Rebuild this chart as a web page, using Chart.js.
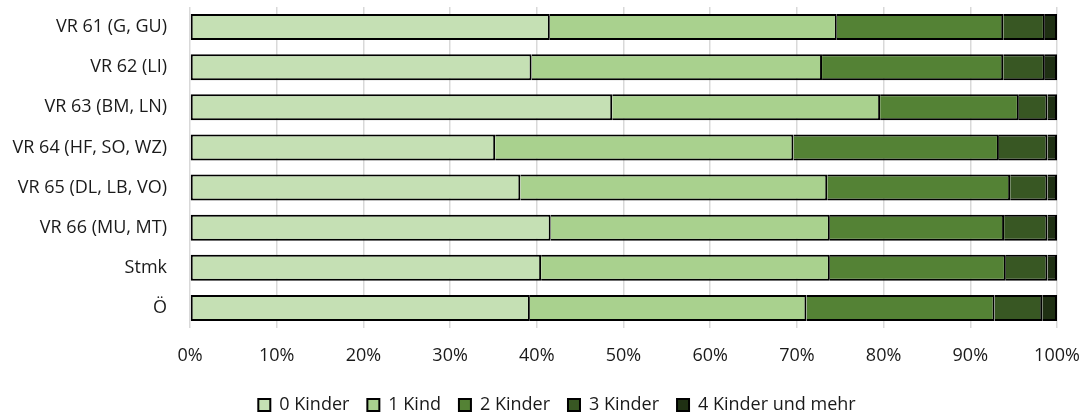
<!DOCTYPE html>
<html lang="de">
<head>
<meta charset="utf-8">
<title>Kinder je Haushalt</title>
<script src="https://cdn.jsdelivr.net/npm/chart.js@4/dist/chart.umd.min.js"></script>
<style>
    html, body { margin: 0; padding: 0; background: #fff; }
    #childrenChart { display: block; }
</style>
</head>
<body>
<canvas id="childrenChart" width="1082" height="414"></canvas>
<script>
// --- Data (shares in %) ---
const regions = ['VR 61 (G, GU)', 'VR 62 (LI)', 'VR 63 (BM, LN)', 'VR 64 (HF, SO, WZ)',
                 'VR 65 (DL, LB, VO)', 'VR 66 (MU, MT)', 'Stmk', 'Ö'];
const seriesNames = ['0 Kinder', '1 Kind', '2 Kinder', '3 Kinder', '4 Kinder und mehr'];

const kids0 = [41.5, 39.4, 48.7, 35.2, 38.1, 41.6, 40.5, 39.2];
const kids1 = [33.1, 33.5, 30.9, 34.4, 35.4, 32.2, 33.3, 31.9];
const kids2 = [19.2, 20.9, 16.0, 23.7, 21.1, 20.1, 20.3, 21.7];
const kids3 = [4.8, 4.8, 3.3, 5.6, 4.3, 5.0, 4.8, 5.5];
const kids4 = [1.4, 1.4, 1.1, 1.1, 1.1, 1.1, 1.1, 1.7];

const seriesColors = ['#C5E0B4', '#A9D18E', '#548235', '#385723', '#1F3013'];

document.addEventListener('DOMContentLoaded', function() {

    const ctx = document.getElementById('childrenChart');
    const textColor = '#1a1a1a';
    const fontFamily = '"Open Sans", "Noto Sans", sans-serif';

    // --- Legend placement: fixed box height, row nudged right ---
    const legendPlacement = {
        id: 'legendPlacement',
        beforeLayout(chart) {
            const lg = chart.legend;
            if (lg && !lg._clamped) {
                const origFit = lg.fit;
                lg.fit = function() {
                    origFit.call(this);
                    this.height = 36;
                };
                lg._clamped = true;
            }
        },
        afterLayout(chart) {
            const lg = chart.legend;
            if (lg) {
                lg.left += 16;
                lg.right += 16;
            }
        }
    };

    const allSeries = [kids0, kids1, kids2, kids3, kids4];

    new Chart(ctx, {
        type: 'bar',
        data: {
            labels: regions,
            datasets: allSeries.map((values, i) => ({
                label: seriesNames[i],
                data: values,
                backgroundColor: seriesColors[i],
                borderColor: '#000',
                borderWidth: 2,
                // only the first segment keeps its left edge, so joins stay one border wide
                borderSkipped: i === 0 ? false : 'start',
                barPercentage: 0.65,
                categoryPercentage: 1
            }))
        },
        options: {
            indexAxis: 'y',
            responsive: false,
            animation: false,
            layout: { padding: 0 },
            scales: {
                x: {
                    stacked: true,
                    min: 0,
                    max: 100,
                    border: { display: false },
                    grid: { color: '#D9D9D9', lineWidth: 1.5, drawTicks: false },
                    ticks: {
                        stepSize: 10,
                        padding: 17,
                        color: textColor,
                        font: { family: fontFamily, size: 18 },
                        callback: v => v + '%'
                    },
                    afterFit: s => {
                        s.height = 50;
                        s.paddingLeft = 0;
                        s.paddingRight = 25;
                    }
                },
                y: {
                    stacked: true,
                    border: { display: false },
                    grid: { display: false, drawTicks: false },
                    ticks: {
                        padding: 23,
                        color: textColor,
                        font: { family: fontFamily, size: 18 }
                    },
                    afterFit: s => {
                        s.width = 190;
                        s.paddingTop = 7;
                        s.paddingBottom = 0;
                    }
                }
            },
            plugins: {
                legend: {
                    position: 'bottom',
                    labels: {
                        boxWidth: 12,
                        boxHeight: 12,
                        padding: 18,
                        color: textColor,
                        font: { family: fontFamily, size: 18 }
                    }
                },
                tooltip: { enabled: false }
            }
        },
        plugins: [legendPlacement]
    });

}); // End DOMContentLoaded
</script>
</body>
</html>
